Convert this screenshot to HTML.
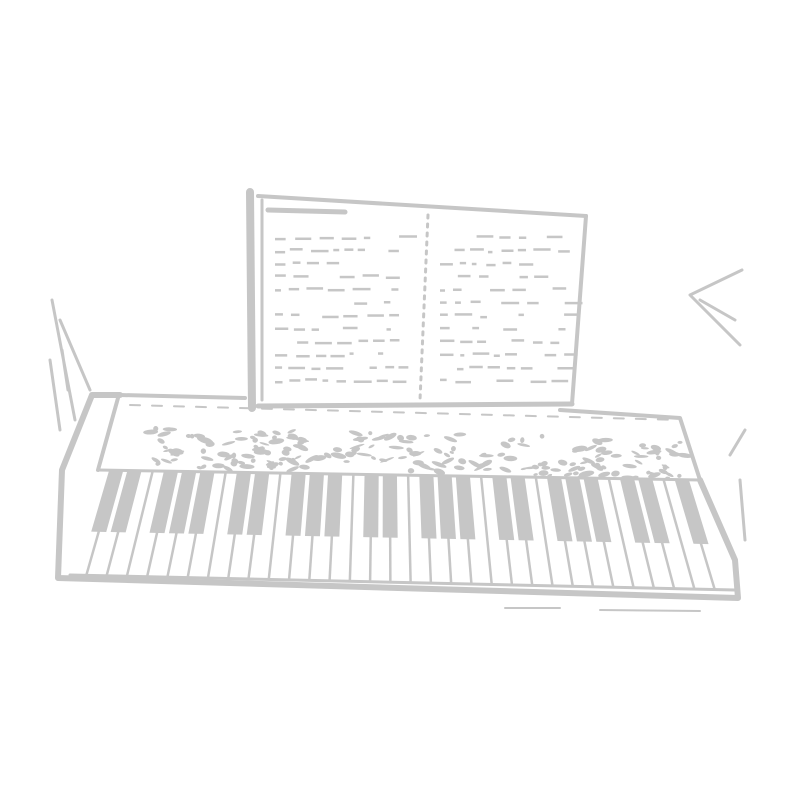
<!DOCTYPE html>
<html><head><meta charset="utf-8"><style>html,body{margin:0;padding:0;background:#fff;width:800px;height:800px;overflow:hidden}</style></head>
<body>
<svg id="s" width="800" height="800" viewBox="0 0 800 800" xmlns="http://www.w3.org/2000/svg">
<g fill="none" stroke="#c6c6c6" stroke-linecap="round" stroke-linejoin="round">
<path d="M250 192 L252 408" stroke-width="8"/>
<path d="M258 196 L586 216" stroke-width="4"/>
<path d="M268 210 L345 212" stroke-width="5"/>
<path d="M586 216 L572 404" stroke-width="4"/>
<path d="M262 200 L262 400" stroke-width="3"/>
<path d="M258 406 L572 404" stroke-width="5"/>
<path d="M428 215 L420 400" stroke-width="3" stroke-dasharray="3 6"/>
<path d="M120 395 L92 395 L62 470 L58 578 L738 598 L735 560 L700 480" stroke-width="6"/>
<path d="M120 395 L245 398 M560 410 L680 418 L700 480" stroke-width="4"/>
<path d="M118 398 L98 470" stroke-width="4"/>
<path d="M98 470 L700 480" stroke-width="3"/>
<path d="M70 575 L735 590" stroke-width="3"/>
<path d="M130 405 L680 420" stroke-width="2" stroke-dasharray="10 12"/>
<path d="M52 300 L75 420 M60 320 L90 390 M50 360 L60 430 M62 350 L68 390" stroke-width="3"/>
<path d="M742 270 L690 295 L740 345 M700 300 L735 320 M745 430 L730 455 M740 480 L745 540" stroke-width="3"/>
<path d="M505 608 L560 608 M600 610 L700 611" stroke-width="2"/>
</g>
<g id="txt" fill="#c6c6c6"></g>
<g id="keys" fill="#c6c6c6" stroke="#c6c6c6"></g>
<g id="panel" fill="#c6c6c6"></g>
</svg>
<script>
var ns="http://www.w3.org/2000/svg";
function el(p,t,a){var e=document.createElementNS(ns,t);for(var k in a)e.setAttribute(k,a[k]);p.appendChild(e);return e;}
var K=document.getElementById('keys');
var N=33;
function kt(t){return [98+t*(700-98),470+t*10];}
function kb(t){return [66+t*(735-66),575+t*15];}
for(var i=1;i<N;i++){var t=i/N,a=kt(t),b=kb(t);
el(K,'line',{x1:a[0],y1:a[1],x2:b[0],y2:b[1],'stroke-width':2.5});}
var pat=[1,1,0,1,1,1,0];
for(var i=1;i<N;i++){if(!pat[(i-1)%7])continue;var t=i/N,w=0.36/N;
var a1=kt(t-w),a2=kt(t+w);var f=0.58;var c1=kb(t-w),c2=kb(t+w);
var b1=[a1[0]+(c1[0]-a1[0])*f,a1[1]+(c1[1]-a1[1])*f],b2=[a2[0]+(c2[0]-a2[0])*f,a2[1]+(c2[1]-a2[1])*f];
el(K,'polygon',{points:a1.join(',')+' '+a2.join(',')+' '+b2.join(',')+' '+b1.join(','),'stroke-width':1});}
var P=document.getElementById('panel');var r=1;function rnd(){r=(r*9301+49297)%233280;return r/233280;}
for(var i=0;i<200;i++){var x=150+rnd()*540,y=428+rnd()*40+(x-140)*0.02;
el(P,'ellipse',{cx:x,cy:y,rx:2+rnd()*6,ry:1+rnd()*2,transform:'rotate('+(rnd()*60-30)+' '+x+' '+y+')'});}
var T=document.getElementById('txt');
for(var c=0;c<2;c++){var x0=c?440:275,x1=c?565:400;
for(var y=235;y<380;y+=13){for(var x=x0;x<x1;){var w=4+rnd()*14;if(rnd()>0.3)el(T,'rect',{x:x,y:y+rnd()*3,width:w,height:2.5});x+=w+4+rnd()*6;}}}
</script>
</body></html>
